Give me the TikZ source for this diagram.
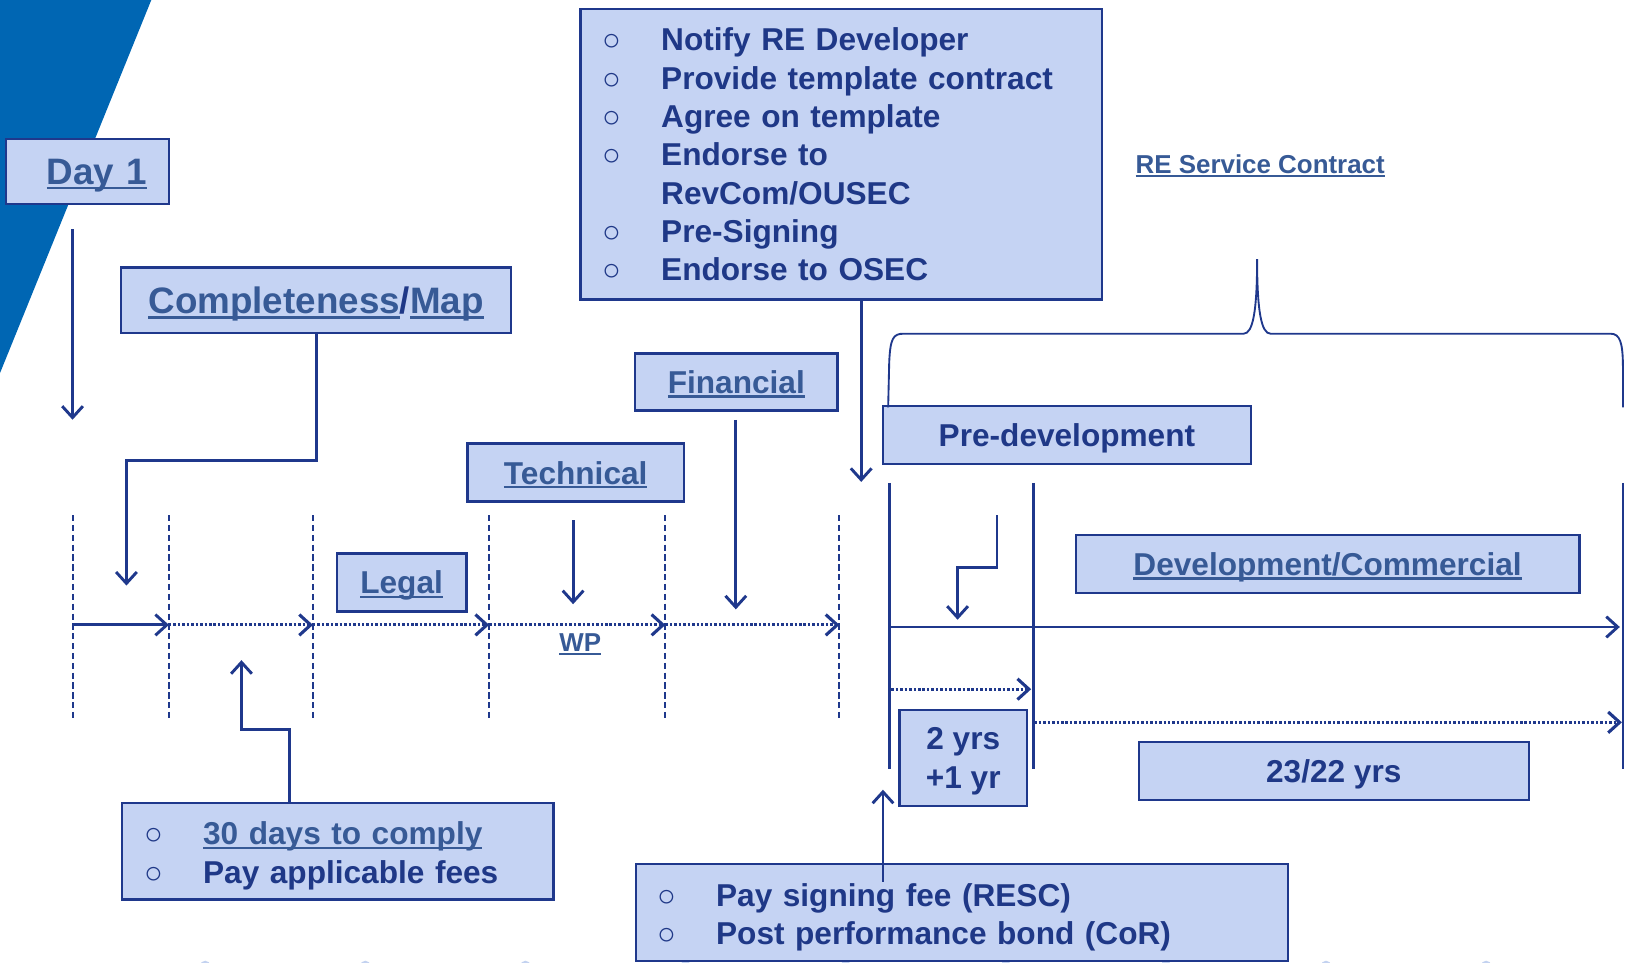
\documentclass[tikz,border=0pt]{standalone}
\usepackage{fontspec}
\setmainfont{Liberation Sans}
\usetikzlibrary{arrows.meta}
\definecolor{lnc}{RGB}{31,56,140}
\definecolor{textc}{RGB}{31,56,135}
\definecolor{linkc}{RGB}{55,90,150}
\definecolor{boxc}{RGB}{197,211,243}
\definecolor{slidec}{RGB}{0,102,179}
\definecolor{dotc}{RGB}{195,210,240}
\newcommand{\lnk}[1]{\textcolor{linkc}{\setbox0\hbox{#1}\rlap{\rule[-0.14em]{\wd0}{0.075em}}\box0}}
\newcommand{\bul}{\makebox[57pt][l]{\mdseries\fontsize{30}{30}\selectfont ○}}
\begin{document}
\begin{tikzpicture}[x=1pt,y=-1pt,
  frame/.style={draw=lnc,line width=2.2pt,fill=boxc,inner sep=0pt,text=textc,font=\bfseries\fontsize{30.5}{37}\selectfont},
  box/.style={frame,text depth=0pt},
  bigbox/.style={box,font=\bfseries\fontsize{35.5}{40}\selectfont},
  listbox/.style={frame,align=left,inner xsep=21pt},
  linktext/.style={inner sep=0pt,font=\bfseries\fontsize{25}{30}\selectfont},
  flow/.style={draw=lnc,line width=2.8pt,-{Straight Barb[length=11pt,width=20pt]}},
  dotflow/.style={flow,line width=3pt,dash pattern=on 2.4pt off 1.9pt},
  tickline/.style={draw=lnc,line width=2pt,dash pattern=on 6pt off 3.5pt},
  vbar/.style={draw=lnc,line width=2.6pt}]
\useasboundingbox (0,0) rectangle (1568,929);

\fill[slidec] (0,0) -- (146,0) -- (0,360) -- cycle;
\foreach \x in {0,...,8}
  \fill[dotc] (198+154.5*\x,932) circle (5);

\node[bigbox,text width=115pt,align=right,inner xsep=21pt,minimum height=63pt] (day1) at (84.5,165.5) {\lnk{Day 1}};
\node[bigbox,minimum width=376pt,minimum height=63pt] (comp) at (305,289.5) {\lnk{Completeness}/\lnk{Map}};
\node[listbox,text width=461pt,minimum height=280pt] (todo) at (811.5,149) {\bul Notify RE Developer\\ \bul Provide template contract\\ \bul Agree on template\\ \bul Endorse to\\ \makebox[57pt]{}RevCom/OUSEC\\ \bul Pre-Signing\\ \bul Endorse to OSEC};
\node[box,minimum width=195pt,minimum height=55pt] (fin) at (710.5,368.5) {\lnk{Financial}};
\node[box,minimum width=209pt,minimum height=56pt] (tech) at (555.5,456) {\lnk{Technical}};
\node[box,minimum width=125pt,minimum height=56pt] (legal) at (387.5,562) {\lnk{Legal}};
\node[box,minimum width=355pt,minimum height=56pt] (predev) at (1029.5,420) {Pre-development};
\node[box,minimum width=486pt,minimum height=56pt] (devcom) at (1281,544) {\lnk{Development/Commercial}};
\node[box,align=center,minimum width=123pt,minimum height=93pt] (yrs2) at (929.5,731.5) {2 yrs\\+1 yr};
\node[box,minimum width=376pt,minimum height=56pt] (yrs23) at (1287,744) {23/22 yrs};
\node[listbox,text width=374pt,minimum height=93pt] (fees) at (326,821.5) {\rule{0pt}{31pt}\bul\lnk{30 days to comply}\\ \bul Pay applicable fees};
\node[listbox,inner xsep=20pt,text width=589pt,minimum height=93pt] (pay) at (928.5,880.5) {\rule{0pt}{31pt}\bul Pay signing fee (RESC)\\ \bul Post performance bond (CoR)};
\node[linktext] (wp) at (560,622) {\lnk{WP}};
\node[linktext] (resc) at (1216,160) {\lnk{RE Service Contract}};

\foreach \x [count=\i from 0] in {70,163,302,472,642,810}{
  \coordinate (t\i) at (\x,603);
  \draw[tickline] (\x,497) -- (\x,695);
}
\draw[flow] (t0) -- (t1);
\foreach \a/\b in {1/2,2/3,3/4,4/5}
  \draw[dotflow] (t\a) -- (t\b);

\coordinate (d1) at (70,405);
\draw[flow] (day1.south -| d1) ++(0,23) -- (d1);
\coordinate (c1) at (122,565);
\draw[flow] (comp.south) -- ++(0,122) -| (c1);
\coordinate (w1) at (553,583);
\draw[flow] (tech.south -| w1) ++(0,17) -- (w1);
\coordinate (f1) at (710,588);
\draw[flow] (fin.south -| f1) ++(0,8) -- (f1);
\coordinate (n1) at (831,465);
\draw[flow] (todo.south -| n1) -- (n1);
\coordinate (p1) at (233,637);
\draw[flow] (fees.north -| 279,0) -- ++(0,-70) -| (p1);
\coordinate (s1) at (852,762);
\draw[flow] (pay.north -| s1) ++(0,18) -- (s1);

\foreach \x in {858,997,1566}
  \draw[vbar] (\x,466) -- (\x,742);
\coordinate (k0) at (962,497);
\coordinate (k1) at (924,598);
\draw[flow] (k0) -- ++(0,51) -| (k1);
\coordinate (a0) at (860,605);
\coordinate (a1) at (1563,605);
\draw[flow] (a0) -- (a1);
\coordinate (b0) at (860,665);
\coordinate (b1) at (995,665);
\draw[dotflow] (b0) -- (b1);
\coordinate (e0) at (998,697);
\coordinate (e1) at (1565,697);
\draw[dotflow] (e0) -- (e1);

\draw[lnc,line width=1.8pt] (857,393) -- (858,350) .. controls (859,326) and (862,322) .. (872,322) -- (1200,322) .. controls (1209,322) and (1213,300) .. (1213,250) .. controls (1213,300) and (1217,322) .. (1226,322) -- (1554,322) .. controls (1563,322) and (1566,330) .. (1566,355) -- (1566,393);
\end{tikzpicture}
\end{document}
